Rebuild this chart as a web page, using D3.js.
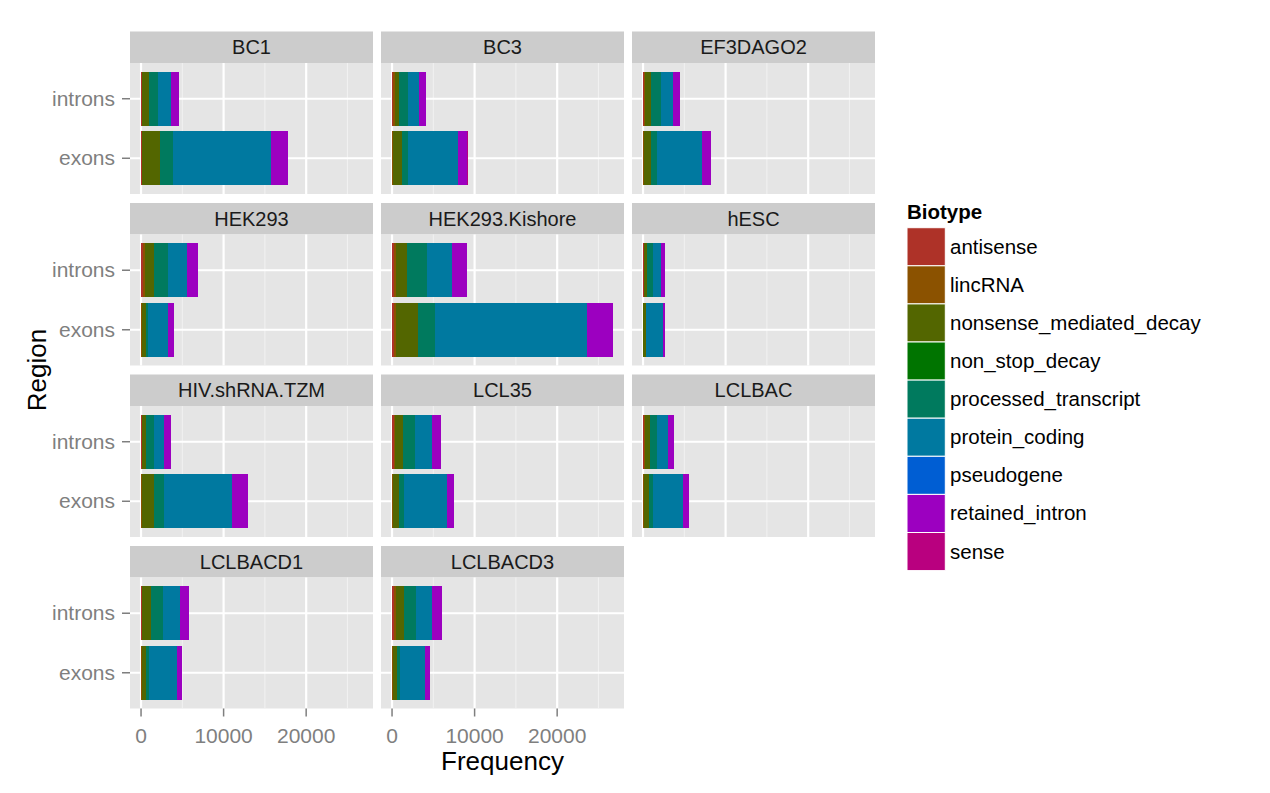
<!DOCTYPE html>
<html><head><meta charset="utf-8">
<script src="https://cdn.jsdelivr.net/npm/d3@7"></script>
<style>body{margin:0;background:#fff}svg{display:block;font-family:"Liberation Sans",Arial,Helvetica,sans-serif}</style>
</head><body>
<script>
const samples = ["BC1","BC3","EF3DAGO2","HEK293","HEK293.Kishore","hESC","HIV.shRNA.TZM","LCL35","LCLBAC","LCLBACD1","LCLBACD3"];
const regions = ["introns","exons"];
const biotypes = ["antisense","lincRNA","nonsense_mediated_decay","non_stop_decay","processed_transcript","protein_coding","pseudogene","retained_intron","sense"];
const colors = ["#AE3228","#8B5200","#536600","#007400","#007A5E","#0079A0","#005ED3","#9C00C0","#B9007F"];
// rows: biotypes; columns: samples
const intronCounts = [
  [70,150,110,280,200,60,60,230,140,90,250],
  [50,150,90,200,280,60,40,170,100,70,190],
  [880,580,800,1085,1365,400,500,885,645,1085,965],
  [1,1,1,1,2,1,1,1,1,1,1],
  [1045,1005,1125,1730,2330,725,965,1490,845,1450,1450],
  [1570,1370,1450,2290,3055,885,1165,2010,1245,1970,1970],
  [8,5,6,10,12,4,5,8,5,8,8],
  [925,845,885,1325,1850,565,885,1165,805,1125,1205],
  [20,15,15,25,30,10,15,20,15,20,20]
];
const exonCounts = [
  [60,40,30,40,200,20,40,40,30,30,40],
  [80,60,50,60,280,30,60,60,50,50,60],
  [2150,1065,885,465,2655,270,1470,785,645,520,545],
  [2,1,1,1,2,1,1,1,1,1,1],
  [1530,805,725,320,2090,80,1205,565,440,400,320],
  [11860,5990,5470,2370,18375,2010,8280,5190,3660,3300,3015],
  [15,10,10,8,20,5,15,10,8,8,8],
  [2090,1165,1005,685,3095,280,1890,845,725,645,645],
  [40,20,20,15,40,10,30,20,15,15,15]
];
const xMajor = [0,10000,20000];
const xMinor = [5000,15000,25000];

const W = 1270, H = 793;
const ncol = 3, nrow = 4;
const panelLeft0 = 130, colStep = 251, panelW = 243;
const rowTop0 = 31.5, rowStep = 171.5, stripH = 31.5, plotH = 131;
const grey50 = "#7F7F7F";

const svg = d3.select("body").append("svg").attr("width", W).attr("height", H);

const totals = [];
samples.forEach((s, j) => {
  totals.push(d3.sum(intronCounts, r => r[j]));
  totals.push(d3.sum(exonCounts, r => r[j]));
});
const maxV = d3.max(totals);
const x = d3.scaleLinear().domain([-0.05 * maxV, maxV * 1.05]).range([0, panelW]);
const y = d3.scaleBand().domain(regions).range([0, plotH]).paddingInner(0.1).paddingOuter(0.15);
const color = d3.scaleOrdinal().domain(biotypes).range(colors);

samples.forEach((s, j) => {
  const col = j % ncol, row = Math.floor(j / ncol);
  const px = panelLeft0 + col * colStep;
  const py = rowTop0 + row * rowStep;
  const g = svg.append("g").attr("transform", `translate(${px},${py})`);
  // strip
  g.append("rect").attr("width", panelW).attr("height", stripH).attr("fill", "#CCCCCC");
  g.append("text").attr("x", panelW / 2).attr("y", stripH / 2 + 7).attr("text-anchor", "middle")
    .attr("font-size", 20).attr("fill", "#1A1A1A").text(s);
  const p = g.append("g").attr("transform", `translate(0,${stripH})`);
  p.append("rect").attr("width", panelW).attr("height", plotH).attr("fill", "#E5E5E5");
  p.selectAll(".minor").data(xMinor).join("line")
    .attr("x1", d => x(d)).attr("x2", d => x(d)).attr("y1", 0).attr("y2", plotH)
    .attr("stroke", "#F2F2F2").attr("stroke-width", 1);
  p.selectAll(".majx").data(xMajor).join("line")
    .attr("x1", d => x(d)).attr("x2", d => x(d)).attr("y1", 0).attr("y2", plotH)
    .attr("stroke", "#FFFFFF").attr("stroke-width", 2.2);
  p.selectAll(".majy").data(regions).join("line")
    .attr("x1", 0).attr("x2", panelW).attr("y1", d => y(d) + y.bandwidth() / 2).attr("y2", d => y(d) + y.bandwidth() / 2)
    .attr("stroke", "#FFFFFF").attr("stroke-width", 2.2);
  // bars
  regions.forEach(reg => {
    const counts = (reg === "introns" ? intronCounts : exonCounts).map(r => r[j]);
    const cum = d3.cumsum(counts);
    const bg = p.append("g").attr("shape-rendering", "crispEdges");
    biotypes.forEach((b, k) => {
      const x0 = k === 0 ? 0 : cum[k - 1];
      const x1 = cum[k];
      bg.append("rect").attr("x", x(x0)).attr("width", x(x1) - x(x0))
        .attr("y", y(reg)).attr("height", y.bandwidth()).attr("fill", color(b));
    });
  });
  // y axis on first column
  if (col === 0) {
    regions.forEach(reg => {
      const cy = y(reg) + y.bandwidth() / 2;
      p.append("line").attr("x1", -8).attr("x2", 0).attr("y1", cy).attr("y2", cy)
        .attr("stroke", grey50).attr("stroke-width", 1.5);
      p.append("text").attr("x", -15).attr("y", cy + 7).attr("text-anchor", "end")
        .attr("font-size", 21).attr("fill", grey50).text(reg);
    });
  }
  // x axis on bottom row only
  if (row === nrow - 1) {
    xMajor.forEach(v => {
      p.append("line").attr("x1", x(v)).attr("x2", x(v)).attr("y1", plotH).attr("y2", plotH + 8)
        .attr("stroke", grey50).attr("stroke-width", 1.5);
      p.append("text").attr("x", x(v)).attr("y", plotH + 34).attr("text-anchor", "middle")
        .attr("font-size", 21).attr("fill", grey50).text(v);
    });
  }
});

// axis titles
svg.append("text").attr("x", panelLeft0 + (2 * colStep + panelW) / 2).attr("y", 770)
  .attr("text-anchor", "middle").attr("font-size", 26).attr("fill", "#000").text("Frequency");
svg.append("text").attr("transform", `translate(46,${rowTop0 + (3 * rowStep + stripH + plotH) / 2}) rotate(-90)`)
  .attr("text-anchor", "middle").attr("font-size", 26).attr("fill", "#000").text("Region");

// legend
const lg = svg.append("g").attr("transform", "translate(907,0)");
lg.append("text").attr("x", 0).attr("y", 219).attr("font-size", 20.5).attr("font-weight", "bold").text("Biotype");
const keyH = 38.1, keyTop = 227.7;
biotypes.forEach((b, k) => {
  const ky = keyTop + k * keyH;
  lg.append("rect").attr("x", 0).attr("y", ky).attr("width", 38.3).attr("height", keyH)
    .attr("fill", color(b)).attr("stroke", "#FFFFFF").attr("stroke-width", 1);
  lg.append("text").attr("x", 43).attr("y", ky + keyH / 2 + 7).attr("font-size", 20.5).attr("fill", "#000").text(b);
});
</script>
</body></html>
